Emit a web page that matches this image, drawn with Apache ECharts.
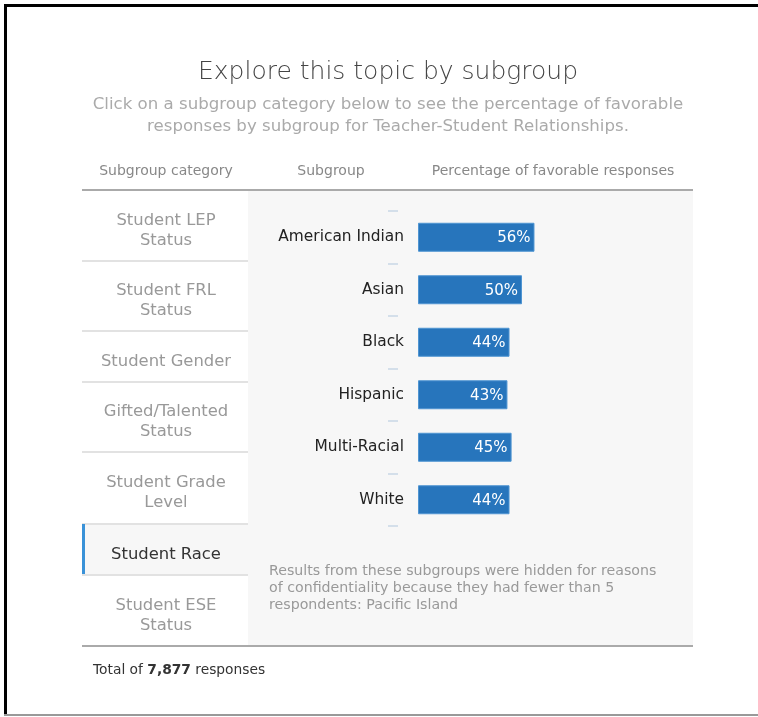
<!DOCTYPE html>
<html>
<head>
<meta charset="utf-8">
<script src="https://cdn.jsdelivr.net/npm/echarts@6/dist/echarts.min.js"></script>
<style>
html,body{margin:0;padding:0;background:#fff;}
#chart{width:758px;height:717px;}
</style>
</head>
<body>
<div id="chart"></div>
<script>
// ---- data ----
const titleText = 'Explore this topic by subgroup';
const subtitleText = 'Click on a subgroup category below to see the percentage of favorable\nresponses by subgroup for Teacher-Student Relationships.';
const headers = ['Subgroup category', 'Subgroup', 'Percentage of favorable responses'];
const subgroupCategories = ['Student LEP\nStatus', 'Student FRL\nStatus', 'Student Gender', 'Gifted/Talented\nStatus', 'Student Grade\nLevel', 'Student Race', 'Student ESE\nStatus'];
const selectedCategory = 'Student Race';
const subgroups = ['American Indian', 'Asian', 'Black', 'Hispanic', 'Multi-Racial', 'White'];
const favorable = [56, 50, 44, 43, 45, 44];
const hiddenNote = 'Results from these subgroups were hidden for reasons\nof confidentiality because they had fewer than 5\nrespondents: Pacific Island';
const totalResponses = '7,877';

// ---- layout ----
const FONT = '"DejaVu Sans", Lato, sans-serif';
const tabBounds = [191, 261, 331, 382, 452, 524, 575, 646];

const graphics = [];
// frame
graphics.push({type:'rect', shape:{x:4,y:4,width:754,height:3}, style:{fill:'#000'}, silent:true});
graphics.push({type:'rect', shape:{x:4,y:4,width:3,height:712}, style:{fill:'#000'}, silent:true});
graphics.push({type:'rect', shape:{x:4,y:714,width:754,height:2}, style:{fill:'#999'}, silent:true});
// right panel bg
graphics.push({type:'rect', z:-10, shape:{x:248,y:191,width:445,height:455}, style:{fill:'#f7f7f7'}, silent:true});
// header texts
const headerX = [166, 331, 553];
headers.forEach((h,i)=>{
  graphics.push({type:'text', x:headerX[i], y:171, style:{text:h, fill:'#888', font:'14px '+FONT, textAlign:'center', textVerticalAlign:'middle'}});
});
// header line
graphics.push({type:'rect', shape:{x:82,y:189,width:611,height:2}, style:{fill:'#aaa'}, silent:true});
// tabs
subgroupCategories.forEach((c,i)=>{
  const y0 = tabBounds[i], y1 = tabBounds[i+1];
  const sel = c === selectedCategory;
  if (sel) {
    graphics.push({type:'rect', z:-10, shape:{x:82,y:y0,width:166,height:y1-y0}, style:{fill:'#f7f7f7'}, silent:true});
    graphics.push({type:'rect', shape:{x:82,y:y0,width:3,height:y1-y0}, style:{fill:'#3a92d8'}, silent:true});
  }
  graphics.push({type:'text', x:166, y:(y0+y1)/2 + 5, style:{text:c, fill: sel ? '#333' : '#999', font:'16.4px '+FONT, lineHeight:20, textAlign:'center', textVerticalAlign:'middle'}});
  if (i < subgroupCategories.length-1) {
    graphics.push({type:'rect', shape:{x:82,y:y1-1,width:166,height:2}, style:{fill:'#e2e2e2'}, silent:true});
  }
});
// bottom line
graphics.push({type:'rect', shape:{x:82,y:645,width:611,height:2}, style:{fill:'#aaa'}, silent:true});
// note
graphics.push({type:'text', x:269, y:563, style:{text:hiddenNote, fill:'#999', font:'14.2px '+FONT, lineHeight:17, textAlign:'left', textVerticalAlign:'top'}});
// total
graphics.push({type:'text', x:93, y:670, style:{text:'{n|Total of }{b|'+totalResponses+'}{n| responses}', textVerticalAlign:'middle',
  rich:{n:{fill:'#333', font:'13.8px '+FONT}, b:{fill:'#333', font:'bold 13.8px '+FONT}}}});
// subtitle
graphics.push({type:'text', x:388, y:116, style:{text:subtitleText, fill:'#aaa', font:'16.6px '+FONT, lineHeight:22, textAlign:'center', textVerticalAlign:'middle'}});
// title
graphics.push({type:'text', x:388, y:72, style:{text:titleText, fill:'#444', font:'300 25px '+FONT, textAlign:'center', textVerticalAlign:'middle'}});

const chart = echarts.init(document.getElementById('chart'), null, {renderer:'canvas'});
chart.setOption({
  animation:false,
  backgroundColor:'#fff',
  grid:{left:418, top:211, width:208, height:315, containLabel:false},
  xAxis:{type:'value', min:0, max:100, show:false},
  yAxis:[
    {type:'category', data:subgroups, inverse:true, axisLine:{show:false}, axisTick:{show:false},
     axisLabel:{margin:14, color:'#222', fontSize:15.4, fontFamily:FONT, padding:[3,0,0,0]}},
    {type:'category', data:subgroups, inverse:true, position:'left', offset:20, axisLine:{show:false},
     axisTick:{show:true, length:10, lineStyle:{color:'#c9d7e6', width:1.5}}, axisLabel:{show:false}}
  ],
  series:[{
    type:'bar', yAxisIndex:0, data:favorable, barWidth:29,
    itemStyle:{color:'#2775bc', borderColor:'#4f95d2', borderWidth:1},
    label:{show:true, position:'insideRight', distance:4, offset:[0,1], color:'#fff', fontSize:15, fontFamily:FONT, formatter:'{c}%'}
  }],
  graphic:graphics
});
</script>
</body>
</html>
